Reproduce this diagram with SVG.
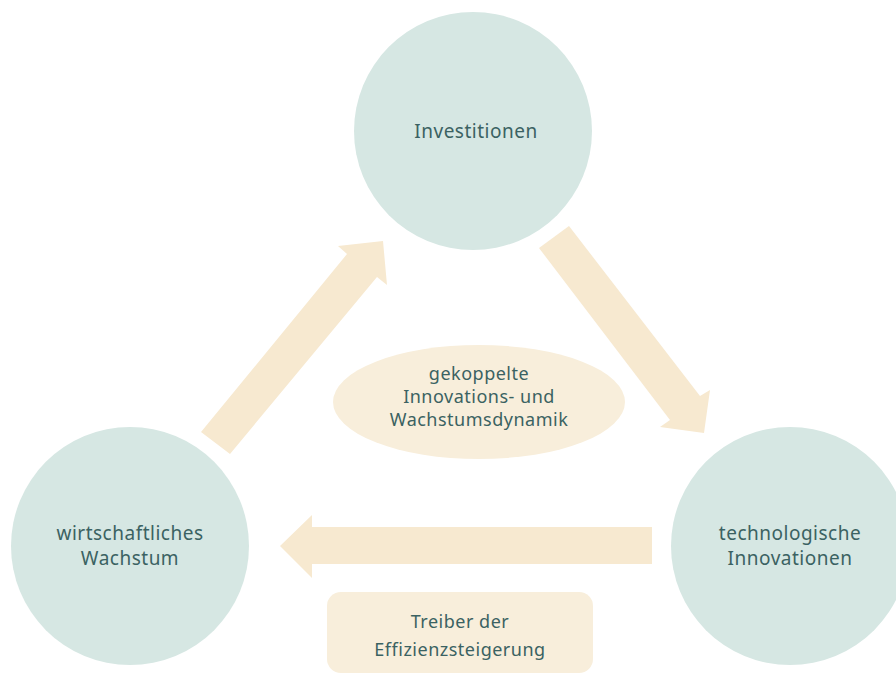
<svg xmlns="http://www.w3.org/2000/svg" width="896" height="675" viewBox="0 0 896 675">
<style>
.c{fill:#d6e7e3}
.a{fill:#f7e9d0}
.l{fill:#f8eedb}
text{font-family:"Noto Sans","Liberation Sans",sans-serif;font-size:19px;fill:#3b6262;text-anchor:middle;letter-spacing:0.5px}
.s{font-size:18px}
</style>
<rect width="896" height="675" fill="#ffffff"/>
<g id="connectors">
<polygon class="a" points="201,432 347,254 338,246 383,241 387,285 377,277 230,454"/>
<polygon class="a" points="569,226 700,396 710,390 704,433 660,427 670,420 539,248"/>
<polygon class="a" points="652,527 312,527 312,515 280,546 312,578 312,564 652,564"/>
</g>
<g id="investitionen">
<circle class="c" cx="473" cy="131" r="119"/>
<text x="476" y="138">Investitionen</text>
</g>
<g id="wachstum">
<circle class="c" cx="130" cy="546" r="119"/>
<text x="130" y="540">wirtschaftliches</text>
<text x="130" y="565">Wachstum</text>
</g>
<g id="innovationen">
<circle class="c" cx="790" cy="546" r="119"/>
<text x="790" y="540">technologische</text>
<text x="790" y="565">Innovationen</text>
</g>
<g id="dynamik">
<ellipse class="l" cx="479" cy="402" rx="146" ry="57"/>
<text class="s" x="479" y="380">gekoppelte</text>
<text class="s" x="479" y="403">Innovations- und</text>
<text class="s" x="479" y="426">Wachstumsdynamik</text>
</g>
<g id="treiber">
<rect class="l" x="327" y="592" width="266" height="81" rx="14"/>
<text class="s" x="460" y="628">Treiber der</text>
<text class="s" x="460" y="656">Effizienzsteigerung</text>
</g>
</svg>
